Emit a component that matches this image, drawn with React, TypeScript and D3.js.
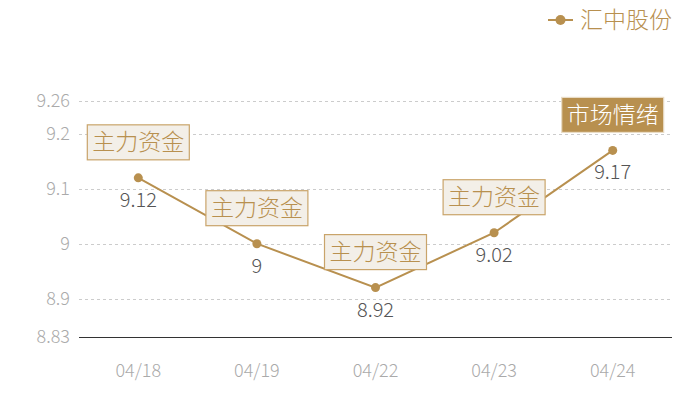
import * as d3 from 'd3';
import { useEffect, useRef } from 'react';

const width = 700;
const height = 400;
const margin = { top: 100, left: 79, bottom: 63, right: 28 };

const dates = ['04/18', '04/19', '04/22', '04/23', '04/24'];
const prices = [9.12, 9, 8.92, 9.02, 9.17];
const tags = ['主力资金', '主力资金', '主力资金', '主力资金', '市场情绪'];
const yTicks = [8.83, 8.9, 9, 9.1, 9.2, 9.26];
const seriesName = '汇中股份';

const gold = '#b8904f';
const font = '"Noto Sans CJK SC", "Noto Sans", sans-serif';

function App() {
  const ref = useRef<SVGSVGElement>(null);

  useEffect(() => {
    const svg = d3.select(ref.current);
    svg.selectAll('*').remove();

    const x = d3
      .scaleBand()
      .domain(dates)
      .range([margin.left, width - margin.right]);

    const y = d3
      .scaleLinear()
      .domain([8.83, 9.26])
      .range([height - margin.bottom, 101]);

    const cx = (d: string) => (x(d) || 0) + x.bandwidth() / 2;

    // grid lines
    svg
      .append('g')
      .selectAll('line')
      .data(yTicks.slice(1))
      .join('line')
      .attr('x1', margin.left)
      .attr('x2', width - margin.right)
      .attr('y1', (d) => Math.round(y(d)) + 0.5)
      .attr('y2', (d) => Math.round(y(d)) + 0.5)
      .attr('stroke', '#ccc')
      .attr('stroke-dasharray', '3,3');

    // y labels
    svg
      .append('g')
      .selectAll('text')
      .data(yTicks)
      .join('text')
      .attr('x', margin.left - 9)
      .attr('y', (d) => y(d))
      .attr('dy', '0.35em')
      .attr('text-anchor', 'end')
      .attr('font-family', font)
      .attr('font-weight', 300)
      .attr('font-size', 18)
      .attr('fill', '#aaa')
      .text((d) => String(d));

    // x axis
    const axisY = Math.round(y(8.83)) + 0.5;
    svg
      .append('line')
      .attr('x1', margin.left)
      .attr('x2', width - margin.right)
      .attr('y1', axisY)
      .attr('y2', axisY)
      .attr('stroke', '#333');

    svg
      .append('g')
      .selectAll('text')
      .data(dates)
      .join('text')
      .attr('x', (d) => cx(d))
      .attr('y', 371)
      .attr('dy', '0.35em')
      .attr('text-anchor', 'middle')
      .attr('font-family', font)
      .attr('font-weight', 300)
      .attr('font-size', 18)
      .attr('fill', '#aaa')
      .text((d) => d);

    const pts = dates.map((d, i) => ({ date: d, value: prices[i], tag: tags[i] }));

    // line
    svg
      .append('path')
      .datum(pts)
      .attr('fill', 'none')
      .attr('stroke', gold)
      .attr('stroke-width', 2)
      .attr(
        'd',
        d3
          .line<(typeof pts)[number]>()
          .x((d) => cx(d.date))
          .y((d) => y(d.value))
      );

    svg
      .append('g')
      .selectAll('circle')
      .data(pts)
      .join('circle')
      .attr('cx', (d) => cx(d.date))
      .attr('cy', (d) => y(d.value))
      .attr('r', 4.5)
      .attr('fill', gold);

    // value labels
    svg
      .append('g')
      .selectAll('text')
      .data(pts)
      .join('text')
      .attr('x', (d) => cx(d.date))
      .attr('y', (d) => y(d.value) + 22)
      .attr('dy', '0.35em')
      .attr('text-anchor', 'middle')
      .attr('font-family', font)
      .attr('font-weight', 300)
      .attr('font-size', 20)
      .attr('fill', '#555')
      .text((d) => String(d.value));

    // tag boxes
    const tagG = svg
      .append('g')
      .selectAll('g')
      .data(pts)
      .join('g')
      .attr('transform', (d) => `translate(${cx(d.date)},${y(d.value) - 36})`);

    tagG
      .append('rect')
      .attr('x', -51)
      .attr('y', -17)
      .attr('width', 102)
      .attr('height', 35)
      .attr('fill', (d) => (d.tag === '市场情绪' ? gold : '#f3efe8'))
      .attr('stroke', (d) => (d.tag === '市场情绪' ? '#e9dcc6' : '#c9a46a'))
      .attr('stroke-width', 1.2);

    tagG
      .append('text')
      .attr('text-anchor', 'middle')
      .attr('dy', '0.36em')
      .attr('font-family', font)
      .attr('font-weight', 300)
      .attr('font-size', 23)
      .attr('fill', (d) => (d.tag === '市场情绪' ? '#fff' : gold))
      .text((d) => d.tag);

    // legend
    const lg = svg.append('g').attr('transform', 'translate(548,20)');
    lg.append('line').attr('x1', 0).attr('x2', 25).attr('stroke', gold).attr('stroke-width', 2);
    lg.append('circle').attr('cx', 12.5).attr('r', 5).attr('fill', gold);
    lg
      .append('text')
      .attr('x', 32)
      .attr('dy', '0.36em')
      .attr('font-family', font)
      .attr('font-weight', 300)
      .attr('font-size', 23)
      .attr('fill', gold)
      .text(seriesName);
  }, []);

  return (
    <svg
      ref={ref}
      width={width}
      height={height}
      style={{ position: 'absolute', left: 0, top: 0, background: '#fff' }}
    />
  );
}

export default App;
